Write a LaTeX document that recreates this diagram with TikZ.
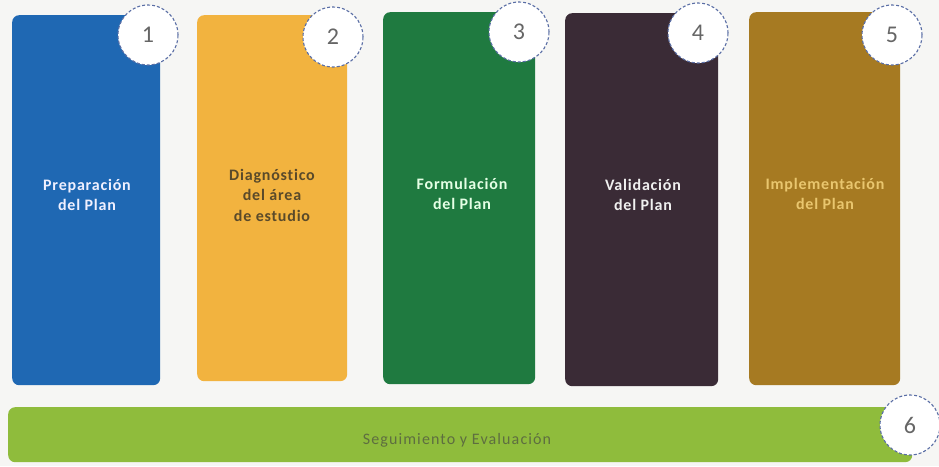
\documentclass[tikz,border=0pt]{standalone}
\usepackage{fontspec}
\setmainfont{Carlito}[Ligatures=NoCommon]
\begin{document}
\begin{tikzpicture}[x=1pt,y=-1pt,
  stage/.style={rounded corners=7pt, inner sep=0pt, anchor=north west},
  lbl/.style={align=center, font=\fontsize{16}{20.5}\selectfont\bfseries\addfontfeatures{LetterSpace=5}},
  num/.style={circle, fill=white, draw=numc, densely dashed, line width=1.1pt, minimum size=60pt, inner sep=0pt, font=\fontsize{24}{24}\selectfont, text=gray!80!black}
]
\definecolor{bgc}{HTML}{F6F6F4}
\definecolor{c1}{HTML}{1F68B3}
\definecolor{c2}{HTML}{F2B33F}
\definecolor{c3}{HTML}{1F7A40}
\definecolor{c4}{HTML}{3A2B36}
\definecolor{c5}{HTML}{A67A22}
\definecolor{c6}{HTML}{8FBC3C}
\definecolor{numc}{HTML}{5A6EA5}
\definecolor{t2}{HTML}{5A4A2A}
\definecolor{t5}{HTML}{E9C66E}
\definecolor{t6}{HTML}{5E6E40}
\fill[bgc] (0,0) rectangle (939,466);
\useasboundingbox (0,0) rectangle (939,466);
\node[stage, fill=c1, minimum width=148pt, minimum height=370pt] (b1) at (12,15) {};
\node[stage, fill=c2, minimum width=150pt, minimum height=366pt] (b2) at (197,15) {};
\node[stage, fill=c3, minimum width=152pt, minimum height=372pt] (b3) at (383,12) {};
\node[stage, fill=c4, minimum width=153pt, minimum height=373pt] (b4) at (565,13) {};
\node[stage, fill=c5, minimum width=151pt, minimum height=373pt] (b5) at (749,12) {};
\node[stage, fill=c6, minimum width=904pt, minimum height=55pt] (b6) at (8,407) {};
\node[lbl, text=white!94!blue] (l1) at (87,195) {Preparación\\del Plan};
\node[lbl, text=t2] (l2) at (272,195) {Diagnóstico\\del área\\de estudio};
\node[lbl, text=white!90!green] (l3) at (462,194) {Formulación\\del Plan};
\node[lbl, text=white!88!gray] (l4) at (643,195) {Validación\\del Plan};
\node[lbl, text=t5] (l5) at (825,194) {Implementación\\del Plan};
\node[lbl, font=\fontsize{16}{20.5}\selectfont\addfontfeatures{LetterSpace=7}, text=t6] (l6) at (457,440) {Seguimiento y Evaluación};
\node[num] (n1) at (148,35) {1};
\node[num] (n2) at (333,37) {2};
\node[num] (n3) at (519,32) {3};
\node[num] (n4) at (698,33) {4};
\node[num] (n5) at (892,35) {5};
\node[num] (n6) at (910,425) {6};
\end{tikzpicture}
\end{document}
